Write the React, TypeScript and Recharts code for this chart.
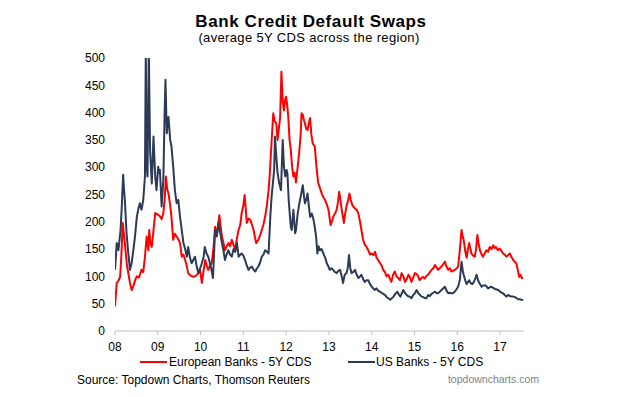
import React from 'react';
import { LineChart, Line, XAxis, YAxis } from 'recharts';

// European Banks - 5Y CDS (decimal year, value)
const euroDates = [
  2008.00, 2008.04, 2008.08, 2008.12, 2008.15, 2008.18, 2008.23, 2008.28, 2008.35, 2008.39,
  2008.44, 2008.48, 2008.51, 2008.56, 2008.62, 2008.66, 2008.70, 2008.74, 2008.78, 2008.80,
  2008.83, 2008.86, 2008.90, 2008.94, 2008.99, 2009.05, 2009.09, 2009.13, 2009.16, 2009.19,
  2009.22, 2009.25, 2009.29, 2009.32, 2009.36, 2009.40, 2009.44, 2009.48, 2009.52, 2009.56,
  2009.60, 2009.64, 2009.68, 2009.71, 2009.76, 2009.83, 2009.89, 2009.95, 2009.99, 2010.03,
  2010.07, 2010.11, 2010.15, 2010.18, 2010.22, 2010.26, 2010.30, 2010.34, 2010.38, 2010.41,
  2010.44, 2010.47, 2010.50, 2010.54, 2010.57, 2010.61, 2010.65, 2010.69, 2010.73, 2010.77,
  2010.81, 2010.85, 2010.89, 2010.93, 2010.96, 2011.00, 2011.03, 2011.06, 2011.08, 2011.12,
  2011.16, 2011.20, 2011.24, 2011.27, 2011.30, 2011.35, 2011.39, 2011.43, 2011.47, 2011.51,
  2011.55, 2011.59, 2011.62, 2011.64, 2011.67, 2011.70, 2011.73, 2011.77, 2011.80, 2011.83,
  2011.86, 2011.89, 2011.92, 2011.95, 2011.98, 2012.00, 2012.03, 2012.05, 2012.08, 2012.11,
  2012.14, 2012.17, 2012.20, 2012.23, 2012.27, 2012.31, 2012.34, 2012.36, 2012.39, 2012.42,
  2012.44, 2012.47, 2012.50, 2012.53, 2012.56, 2012.59, 2012.62, 2012.67, 2012.71, 2012.75,
  2012.79, 2012.83, 2012.87, 2012.91, 2012.95, 2012.99, 2013.04, 2013.07, 2013.10, 2013.14,
  2013.18, 2013.21, 2013.24, 2013.27, 2013.30, 2013.35, 2013.38, 2013.41, 2013.45, 2013.48,
  2013.51, 2013.55, 2013.60, 2013.65, 2013.69, 2013.72, 2013.76, 2013.80, 2013.84, 2013.88,
  2013.92, 2013.96, 2014.00, 2014.04, 2014.08, 2014.11, 2014.15, 2014.19, 2014.23, 2014.27,
  2014.31, 2014.35, 2014.39, 2014.43, 2014.46, 2014.50, 2014.54, 2014.58, 2014.62, 2014.66,
  2014.70, 2014.74, 2014.78, 2014.82, 2014.86, 2014.90, 2014.93, 2014.97, 2015.01, 2015.05,
  2015.09, 2015.12, 2015.16, 2015.20, 2015.24, 2015.28, 2015.32, 2015.36, 2015.40, 2015.44,
  2015.48, 2015.52, 2015.55, 2015.59, 2015.63, 2015.67, 2015.71, 2015.75, 2015.79, 2015.83,
  2015.86, 2015.90, 2015.94, 2015.98, 2016.02, 2016.06, 2016.10, 2016.13, 2016.15, 2016.19,
  2016.22, 2016.25, 2016.28, 2016.31, 2016.33, 2016.37, 2016.41, 2016.44, 2016.47, 2016.50,
  2016.53, 2016.57, 2016.60, 2016.64, 2016.68, 2016.72, 2016.76, 2016.80, 2016.84, 2016.87,
  2016.90, 2016.95, 2016.99, 2017.03, 2017.07, 2017.11, 2017.15, 2017.19, 2017.23, 2017.27,
  2017.31, 2017.35, 2017.38, 2017.42, 2017.45, 2017.48, 2017.51, 2017.54,
];
const euroValues = [
  45, 88, 92, 99, 140, 198, 161, 120, 88, 75,
  85, 95, 100, 98, 112, 108, 136, 173, 148, 185,
  160, 154, 185, 216, 214, 210, 205, 216, 240, 283,
  260, 252, 230, 209, 167, 178, 173, 168, 161, 136,
  140, 130, 118, 106, 102, 99, 101, 106, 112, 88,
  110, 130, 118, 112, 120, 124, 150, 191, 173, 195,
  212, 190, 173, 160, 148, 155, 161, 155, 167, 158,
  148, 170, 185, 195, 216, 230, 249, 220, 198, 206,
  204, 195, 185, 172, 161, 167, 175, 185, 195, 210,
  230, 258, 290, 319, 360, 399, 385, 380, 350, 370,
  392, 475, 420, 404, 425, 429, 410, 392, 350, 331,
  300, 283, 290, 272, 300, 331, 360, 399, 396, 385,
  380, 370, 368, 380, 390, 360, 344, 338, 300, 271,
  262, 252, 245, 240, 232, 222, 194, 200, 209, 215,
  222, 235, 255, 240, 222, 198, 215, 228, 240, 252,
  240, 230, 225, 222, 215, 203, 185, 167, 158, 154,
  148, 140, 142, 139, 145, 135, 130, 125, 120, 112,
  108, 100, 103, 95, 90, 103, 109, 100, 97, 93,
  106, 100, 90, 95, 103, 97, 90, 98, 106, 104,
  100, 93, 97, 99, 96, 101, 103, 108, 112, 115,
  121, 116, 112, 115, 118, 122, 127, 118, 112, 115,
  109, 110, 112, 114, 118, 148, 185, 172, 167, 145,
  134, 150, 161, 150, 142, 138, 136, 150, 176, 160,
  148, 140, 136, 142, 148, 145, 154, 150, 157, 152,
  154, 148, 151, 147, 142, 140, 136, 139, 142, 135,
  130, 126, 124, 110, 99, 103, 97, 97,
];

// US Banks - 5Y CDS (decimal year, value)
const usDates = [
  2008.00, 2008.02, 2008.04, 2008.08, 2008.11, 2008.13, 2008.16, 2008.19, 2008.21, 2008.23,
  2008.27, 2008.31, 2008.35, 2008.39, 2008.43, 2008.47, 2008.51, 2008.55, 2008.58, 2008.62,
  2008.66, 2008.70, 2008.72, 2008.74, 2008.76, 2008.79, 2008.82, 2008.86, 2008.90, 2008.94,
  2008.97, 2009.01, 2009.03, 2009.05, 2009.09, 2009.13, 2009.16, 2009.18, 2009.21, 2009.23,
  2009.25, 2009.29, 2009.32, 2009.36, 2009.40, 2009.44, 2009.48, 2009.52, 2009.56, 2009.60,
  2009.64, 2009.68, 2009.71, 2009.75, 2009.79, 2009.83, 2009.87, 2009.91, 2009.95, 2009.99,
  2010.03, 2010.07, 2010.10, 2010.14, 2010.18, 2010.22, 2010.26, 2010.29, 2010.32, 2010.34,
  2010.38, 2010.42, 2010.46, 2010.50, 2010.54, 2010.57, 2010.61, 2010.65, 2010.69, 2010.73,
  2010.77, 2010.81, 2010.85, 2010.89, 2010.93, 2010.96, 2011.00, 2011.04, 2011.08, 2011.12,
  2011.16, 2011.20, 2011.24, 2011.28, 2011.31, 2011.35, 2011.39, 2011.43, 2011.47, 2011.51,
  2011.55, 2011.59, 2011.63, 2011.66, 2011.69, 2011.72, 2011.74, 2011.77, 2011.80, 2011.84,
  2011.88, 2011.92, 2011.95, 2011.98, 2012.01, 2012.03, 2012.06, 2012.09, 2012.11, 2012.13,
  2012.17, 2012.21, 2012.23, 2012.27, 2012.31, 2012.35, 2012.39, 2012.42, 2012.44, 2012.47,
  2012.50, 2012.53, 2012.56, 2012.60, 2012.64, 2012.67, 2012.70, 2012.73, 2012.76, 2012.79,
  2012.83, 2012.87, 2012.91, 2012.95, 2012.99, 2013.02, 2013.06, 2013.10, 2013.14, 2013.18,
  2013.22, 2013.26, 2013.30, 2013.33, 2013.37, 2013.41, 2013.44, 2013.47, 2013.50, 2013.53,
  2013.57, 2013.61, 2013.65, 2013.69, 2013.73, 2013.76, 2013.80, 2013.84, 2013.88, 2013.92,
  2013.96, 2014.00, 2014.04, 2014.07, 2014.11, 2014.15, 2014.19, 2014.23, 2014.27, 2014.31,
  2014.35, 2014.39, 2014.43, 2014.47, 2014.51, 2014.55, 2014.60, 2014.64, 2014.67, 2014.71,
  2014.74, 2014.78, 2014.82, 2014.86, 2014.89, 2014.93, 2014.97, 2015.01, 2015.05, 2015.09,
  2015.13, 2015.17, 2015.21, 2015.25, 2015.28, 2015.32, 2015.36, 2015.40, 2015.44, 2015.48,
  2015.52, 2015.55, 2015.59, 2015.63, 2015.67, 2015.71, 2015.75, 2015.79, 2015.83, 2015.86,
  2015.90, 2015.94, 2015.98, 2016.02, 2016.06, 2016.08, 2016.10, 2016.13, 2016.15, 2016.19,
  2016.22, 2016.25, 2016.28, 2016.31, 2016.35, 2016.39, 2016.43, 2016.45, 2016.49, 2016.53,
  2016.57, 2016.60, 2016.64, 2016.68, 2016.72, 2016.76, 2016.80, 2016.84, 2016.88, 2016.92,
  2016.96, 2017.00, 2017.04, 2017.07, 2017.11, 2017.15, 2017.19, 2017.23, 2017.27, 2017.31,
  2017.35, 2017.39, 2017.43, 2017.47, 2017.51, 2017.54,
];
const usValues = [
  112, 135, 161, 148, 170, 185, 230, 286, 260, 240,
  179, 143, 112, 125, 148, 175, 209, 225, 234, 222,
  240, 283, 520, 300, 283, 520, 331, 270, 356, 283,
  258, 301, 290, 295, 228, 277, 400, 460, 362, 380,
  392, 350, 338, 301, 258, 234, 240, 209, 185, 161,
  150, 136, 154, 135, 124, 130, 136, 118, 106, 115,
  124, 135, 154, 142, 136, 124, 110, 97, 150, 185,
  175, 198, 180, 161, 145, 130, 140, 148, 140, 136,
  150, 145, 161, 136, 140, 142, 138, 130, 120, 112,
  116, 118, 112, 109, 114, 118, 125, 136, 140, 148,
  145, 142, 209, 246, 270, 295, 356, 320, 289, 270,
  258, 350, 300, 283, 295, 289, 240, 209, 191, 185,
  222, 179, 185, 215, 234, 250, 267, 245, 234, 240,
  252, 230, 209, 215, 204, 190, 173, 142, 155, 148,
  150, 142, 135, 124, 118, 112, 115, 112, 108, 106,
  110, 112, 100, 88, 103, 106, 115, 139, 115, 106,
  108, 112, 103, 97, 100, 103, 95, 90, 93, 93,
  86, 81, 78, 75, 78, 74, 72, 70, 68, 66,
  62, 60, 57, 60, 63, 68, 72, 66, 63, 70,
  75, 69, 66, 63, 63, 60, 66, 69, 75, 69,
  66, 63, 62, 60, 60, 66, 64, 68, 70, 72,
  69, 69, 72, 75, 78, 81, 74, 69, 70, 69,
  69, 72, 76, 81, 93, 110, 127, 110, 103, 92,
  86, 90, 93, 88, 86, 90, 98, 103, 92, 86,
  81, 83, 84, 82, 78, 80, 81, 79, 77, 76,
  75, 72, 70, 69, 66, 63, 66, 64, 63, 63,
  62, 60, 58, 58, 57, 56,
];

const yearTicks = [2008, 2009, 2010, 2011, 2012, 2013, 2014, 2015, 2016, 2017];
const yearLabels = ['08', '09', '10', '11', '12', '13', '14', '15', '16', '17'];
const valueTicks = [0, 50, 100, 150, 200, 250, 300, 350, 400, 450, 500];

const euroData = euroDates.map((t, i) => ({ t, v: euroValues[i] }));
const usData = usDates.map((t, i) => ({ t, v: usValues[i] }));

const FONT = '"Liberation Sans", Arial, sans-serif';
const RED = '#FF0000';
const NAVY = '#2B3A56';

export default function App() {
  return (
    <div
      style={{
        position: 'absolute',
        left: 0,
        top: 0,
        width: 628,
        height: 397,
        background: '#ffffff',
        fontFamily: FONT,
        overflow: 'hidden',
      }}
    >
      <LineChart
        width={628}
        height={397}
        margin={{ top: 58, right: 104, bottom: 36, left: 85 }}
        style={{ fontFamily: FONT }}
      >
        <XAxis
          type="number"
          dataKey="t"
          domain={[2008, 2017.56]}
          allowDataOverflow
          ticks={yearTicks}
          interval={0}
          tickFormatter={(v: number) => yearLabels[yearTicks.indexOf(v)] ?? ''}
          stroke="#BFBFBF"
          axisLine={{ stroke: '#BFBFBF', strokeWidth: 1 }}
          tickLine={{ stroke: '#BFBFBF' }}
          tickSize={4}
          tickMargin={7}
          height={30}
          tick={{ fill: '#000000', fontSize: 12, fontFamily: FONT }}
        />
        <YAxis
          type="number"
          domain={[0, 500]}
          allowDataOverflow
          ticks={valueTicks}
          interval={0}
          axisLine={false}
          tickLine={false}
          tickSize={0}
          tickMargin={10}
          width={30}
          tick={{ fill: '#000000', fontSize: 12, fontFamily: FONT }}
        />
        <Line
          data={euroData}
          dataKey="v"
          type="linear"
          stroke={RED}
          strokeWidth={2}
          dot={false}
          activeDot={false}
          isAnimationActive={false}
          strokeLinejoin="round"
        />
        <Line
          data={usData}
          dataKey="v"
          type="linear"
          stroke={NAVY}
          strokeWidth={2}
          dot={false}
          activeDot={false}
          isAnimationActive={false}
          strokeLinejoin="round"
        />
      </LineChart>

      <div
        style={{
          position: 'absolute',
          left: 0,
          width: 622,
          top: 13,
          textAlign: 'center',
          fontSize: 17,
          lineHeight: '17px',
          fontWeight: 'bold',
          letterSpacing: 0.6,
          color: '#000',
        }}
      >
        Bank Credit Default Swaps
      </div>
      <div
        style={{
          position: 'absolute',
          left: 0,
          width: 618,
          top: 31,
          textAlign: 'center',
          fontSize: 13,
          lineHeight: '13px',
          letterSpacing: 0.35,
          color: '#000',
        }}
      >
        (average 5Y CDS across the region)
      </div>

      <div style={{ position: 'absolute', left: 140, top: 361, width: 27, height: 2, background: RED }} />
      <div
        style={{ position: 'absolute', left: 169, top: 356, fontSize: 12, lineHeight: '12px', color: '#000', whiteSpace: 'nowrap' }}
      >
        European Banks - 5Y CDS
      </div>
      <div style={{ position: 'absolute', left: 348, top: 361, width: 27, height: 2, background: NAVY }} />
      <div
        style={{ position: 'absolute', left: 376, top: 356, fontSize: 12, lineHeight: '12px', color: '#000', whiteSpace: 'nowrap' }}
      >
        US Banks - 5Y CDS
      </div>

      <div
        style={{ position: 'absolute', left: 77, top: 374, fontSize: 12, lineHeight: '12px', color: '#000', whiteSpace: 'nowrap' }}
      >
        Source: Topdown Charts, Thomson Reuters
      </div>
      <div
        style={{
          position: 'absolute',
          right: 628 - 539,
          top: 374,
          fontSize: 10.5,
          lineHeight: '10.5px',
          color: '#7F7F7F',
          whiteSpace: 'nowrap',
        }}
      >
        topdowncharts.com
      </div>
    </div>
  );
}
